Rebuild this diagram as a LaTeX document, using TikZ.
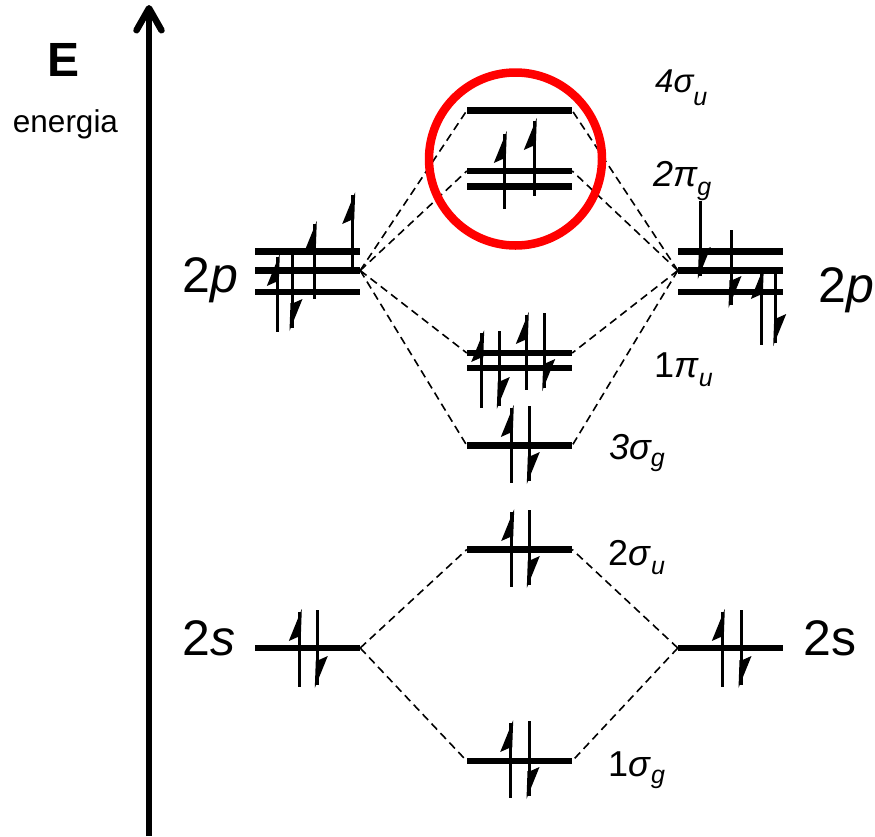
\documentclass[tikz,border=0pt]{standalone}
\usepackage{fontspec}
\setmainfont{Liberation Sans}
\usetikzlibrary{arrows.meta, positioning}
\tikzset{
    level/.style={
        fill=black,
        inner sep=0pt,
        minimum width=105pt,
        minimum height=6.5pt
    },
    corr/.style={dash pattern=on 8pt off 5pt, line width=1.6pt},
    axisline/.style={-{Straight Barb[length=22pt,width=25pt,round]}, line width=6.5pt},
    molabel/.style={anchor=base west, inner sep=0pt, font=\fontsize{36}{40}\selectfont},
    aolabel/.style={anchor=base west, inner sep=0pt, font=\fontsize{50}{54}\selectfont},
    elecup/.pic={
        \draw[line width=3pt] (0,3) -- (0,78);
        \fill (2.5,0) -- (-10.5,32) -- (-1.5,28) -- (1.5,28) -- cycle;
    },
    elecdown/.pic={
        \draw[line width=3pt] (0,0) -- (0,75);
        \fill (-2.5,78) -- (10.5,46) -- (1.5,50) -- (-1.5,50) -- cycle;
    }
}
\newcommand{\lowsub}[2][-9pt]{\raisebox{#1}{\fontsize{25}{25}\selectfont\itshape #2}}

\begin{document}
\begin{tikzpicture}[x=1pt,y=-1pt]
\useasboundingbox (0,0) rectangle (875,836);

% Energy axis
\coordinate (axisbot) at (149,836);
\coordinate (axistop) at (149,5);
\draw[axisline] (axisbot) -- (axistop);
\node[font=\fontsize{48}{50}\selectfont\bfseries] (elabel) at (63.5,60) {E};
\node[font=\fontsize{31.5}{34}\selectfont] (energia) at (65.5,124) {energia};

% Levels
\foreach \name/\x/\y in {
    Lpa/307.5/251.5, Lpb/307.5/270.5, Lpc/307.5/292, Ls/307.5/648,
    Rpa/730.5/251.5, Rpb/730.5/270.5, Rpc/730.5/292, Rs/730.5/648,
    fouru/519.5/110.5, pigA/519.5/171, pigB/519.5/186.5,
    piuA/519.5/353, piuB/519.5/368, threeg/519.5/445.5,
    twou/519.5/549.5, oneg/519.5/761}{
    \node[level] (\name) at (\x,\y) {};
}

% Correlation lines
\foreach \mo in {fouru,pigA,piuA,threeg}{
    \draw[corr] (Lpb.east) -- (\mo.west);
    \draw[corr] (Rpb.west) -- (\mo.east);
}
\foreach \mo in {twou,oneg}{
    \draw[corr] (Ls.east) -- (\mo.west);
    \draw[corr] (Rs.west) -- (\mo.east);
}

% Electrons
\foreach \x/\y in {504.3/131, 534.3/118, 277.3/254, 314.3/221, 352.7/192,
    761.3/267, 481.7/330, 526.3/312, 511.3/405, 511.7/509, 299.3/609, 722.3/609, 510.7/720}{
    \pic at (\x,\y) {elecup};
}
\foreach \x/\y in {292/253, 700.3/201, 731/230, 775.7/268, 499.3/331, 544.7/313,
    529.3/406, 529.3/510, 317.3/610, 741/610, 529/721}{
    \pic at (\x,\y) {elecdown};
}

% Red ring
\node[draw=red, line width=8.5pt, circle, minimum size=173pt, inner sep=0pt] (ring) at (515.5,159) {};

% Labels
\node[molabel, font=\fontsize{33}{36}\selectfont] (lfouru) at (655,92) {\itshape 4σ\lowsub[-13pt]{u}};
\node[molabel] (lpig) at (653,186) {\itshape 2π\lowsub{g}};
\node[molabel] (lpiu) at (654,377) {1\textit{π}\lowsub{u}};
\node[molabel] (lthreeg) at (609,459) {\itshape 3σ\lowsub[-7pt]{g}};
\node[molabel] (ltwou) at (608,565) {2\textit{σ}\lowsub{u}};
\node[molabel] (loneg) at (608,776) {1\textit{σ}\lowsub[-7pt]{g}};
\node[aolabel] (lpl) at (182,292) {2\textit{p}};
\node[aolabel] (lpr) at (818,302) {2\textit{p}};
\node[aolabel] (lsl) at (182,655) {2\textit{s}};
\node[aolabel] (lsr) at (803,655) {2s};
\end{tikzpicture}
\end{document}
